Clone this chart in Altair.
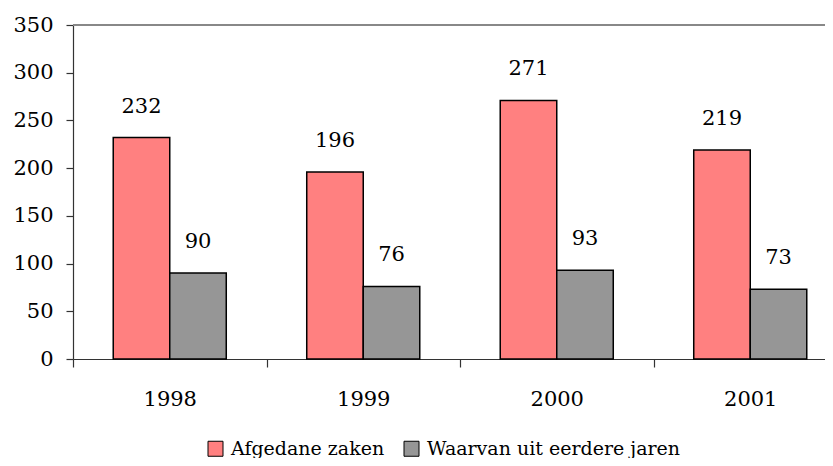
import altair as alt
import pandas as pd

years = ["1998", "1999", "2000", "2001"]
series = ["Afgedane zaken", "Waarvan uit eerdere jaren"]
afgedane = [232, 196, 271, 219]
waarvan = [90, 76, 93, 73]
colors = ["#FF8080", "#969696"]

rows = []
for i, y in enumerate(years):
    rows.append({"jaar": y, "reeks": series[0], "waarde": afgedane[i]})
    rows.append({"jaar": y, "reeks": series[1], "waarde": waarvan[i]})
df = pd.DataFrame(rows)

FONT = "DejaVu Serif"
NUM = 21

x_enc = alt.X(
    "jaar:N",
    sort=years,
    scale=alt.Scale(range=[0, 774], paddingInner=0, paddingOuter=0),
    axis=alt.Axis(
        title=None, labelAngle=0, tickBand="extent", tickSize=8,
        labelPadding=21, labelFont=FONT, labelFontSize=NUM, labelColor="black",
        domainColor="#333", tickColor="#333", domainWidth=1.2, tickWidth=1.2,
    ),
)
xo_enc = alt.XOffset("reeks:N", sort=series,
                     scale=alt.Scale(paddingInner=0, paddingOuter=0.712))
y_enc = alt.Y(
    "waarde:Q",
    scale=alt.Scale(domain=[0, 350], nice=False),
    axis=alt.Axis(
        title=None, values=list(range(0, 351, 50)), grid=False, tickSize=7,
        labelPadding=13, labelFont=FONT, labelFontSize=NUM, labelColor="black",
        domainColor="#333", tickColor="#333", domainWidth=1.2, tickWidth=1.2,
    ),
)

bars = alt.Chart(df).mark_bar(stroke="black", strokeWidth=1.5).encode(
    x=x_enc,
    xOffset=xo_enc,
    y=y_enc,
    color=alt.Color(
        "reeks:N", sort=series,
        scale=alt.Scale(domain=series, range=colors),
        legend=alt.Legend(
            title=None, orient="none", direction="horizontal",
            legendX=133, legendY=414, padding=0,
            symbolType="square", symbolSize=225, symbolStrokeColor="black",
            symbolStrokeWidth=1, symbolOpacity=1, labelOffset=6, columnPadding=17,
            labelFont=FONT, labelFontSize=19, labelColor="black", labelLimit=500,
        ),
    ),
)

labels = alt.Chart(df).mark_text(
    font=FONT, fontSize=NUM, color="black", baseline="alphabetic", dy=-25
).encode(
    x=alt.X("jaar:N", sort=years),
    xOffset=alt.XOffset("reeks:N", sort=series),
    y="waarde:Q",
    text="waarde:Q",
)

top = alt.Chart(df).mark_rule(color="#888", strokeWidth=1.2).encode(
    y=alt.datum(350)
)

chart = alt.layer(bars, labels, top).properties(
    width=752, height=334,
    autosize=alt.AutoSizeParams(type="none"),
    padding={"left": 65, "top": 17, "right": 0, "bottom": 99},
).configure_view(stroke=None)

chart.save("out.html", embed_options={"renderer": "svg", "actions": False})
